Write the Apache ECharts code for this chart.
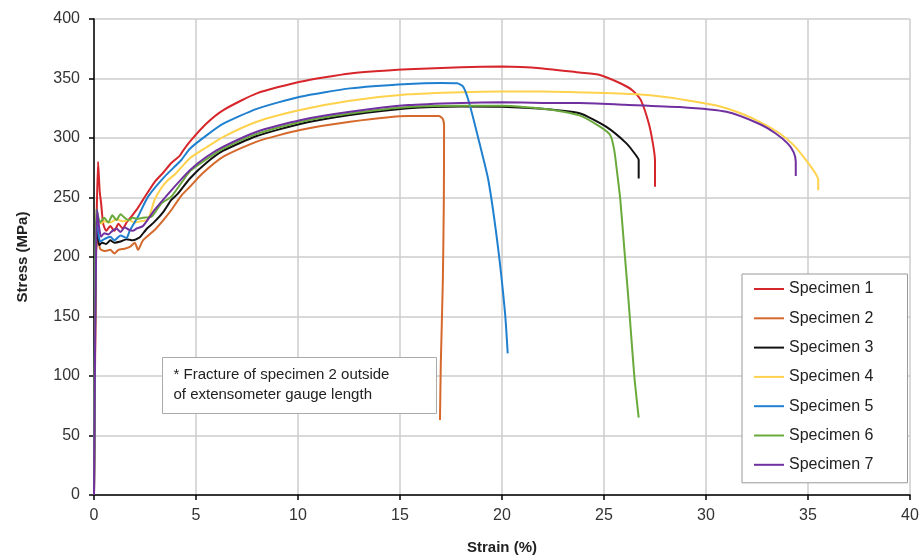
<!DOCTYPE html>
<html>
<head>
<meta charset="utf-8">
<script src="https://cdn.jsdelivr.net/npm/echarts@6/dist/echarts.min.js"></script>
<style>
html,body{margin:0;padding:0;background:#fff;}
#chart{width:922px;height:559px;}
</style>
</head>
<body>
<div id="chart"></div>
<script>
// ---- Data (strain %, stress MPa) ----
const seriesNames = ["Specimen 1","Specimen 2","Specimen 3","Specimen 4","Specimen 5","Specimen 6","Specimen 7"];

const s1Strain = [0,0.1,0.2,0.28,0.35,0.45,0.6,0.8,1.0,1.2,1.4,1.6,1.83,2.1,2.4,2.97,3.4,3.79,4.2,4.35,4.7,5.5,6.34,7.98,10.1,12.55,15.4,18,20,22,23.8,24.8,25.8,26.4,26.8,27.2,27.4,27.5,27.5];
const s1Stress = [0,200,280,255,245,228,222,226,222,228,224,229,234,240,248,263,271,279,285,289,297,312,323.5,337.5,347.3,354.3,357.7,359.5,360,358.5,355,353,346,340,332,312,295,281,259];

const s2Strain = [0,0.05,0.1,0.2,0.3,0.5,0.8,1.0,1.2,1.5,1.8,2.0,2.16,2.4,2.97,3.4,3.79,4.3,4.7,5.3,6.34,7.98,10.1,12.55,15.4,16.9,17.1,17.16,17.15,17.1,17.0,16.96];
const s2Stress = [0,120,205,215,207,205,206,203,206,207,209,212,206,214,222.7,231,239.5,252,259,270,284.3,297,306.7,313.7,318.5,318.5,316,310,250,180,110,63];

const s3Strain = [0,0.05,0.1,0.15,0.25,0.4,0.6,0.8,1.0,1.3,1.6,1.9,2.2,2.32,2.6,2.97,3.4,3.79,4.1,4.7,5.5,6.34,7.98,10.1,12.55,15.4,18,20,22,23.8,25.1,26.1,26.5,26.7,26.7];
const s3Stress = [0,140,230,222,210,212,211,214,212,213,215,214,216,218,224,229.7,238,248,253,266,279,289.3,301.7,311.8,319.3,325,326.5,326.3,324.5,320.8,309.5,295.5,287,281.5,266];

const s4Strain = [0,0.05,0.1,0.2,0.35,0.5,0.8,1.1,1.4,1.7,2.0,2.3,2.6,2.73,2.97,3.3,3.63,4.0,4.7,5.5,6.34,7.98,10.1,12.55,15.4,18,20,22,24,26.6,28,29.5,30.7,31.7,32.7,33.6,34.3,34.9,35.3,35.5,35.5];
const s4Stress = [0,130,220,232,228,230,229,232,230,231,229,230,231,235,248,258,264.7,270,283,292,301,313.7,323.5,331.3,336.7,338.5,339,339,338.2,336.7,334.5,330.5,326.5,320.8,313,304,294,281.5,272,265,256];

const s5Strain = [0,0.05,0.1,0.2,0.3,0.5,0.8,1.0,1.3,1.6,1.75,2.16,2.65,3.46,4.28,4.7,5.5,6.34,7.98,10.1,12.55,15.4,17.0,17.8,18.1,18.4,18.9,19.33,19.8,20.15,20.28];
const s5Stress = [0,140,230,222,213,215,217,214,218,216,222,234,250.7,267.5,281.5,291,302,312,324.5,334.7,341.7,345.4,346.2,346,343,329,295.5,264.7,208.7,152.7,119];

const s6Strain = [0,0.05,0.1,0.15,0.3,0.5,0.7,0.9,1.1,1.3,1.5,1.7,1.9,2.1,2.4,2.83,3.3,3.79,4.7,5.5,6.34,7.98,10.1,12.55,15.4,18,20,22.35,23.8,24.8,25.3,25.5,25.65,25.8,26.0,26.2,26.35,26.5,26.7];
const s6Stress = [0,140,240,238,229,233,229,235,231,236,233,231,233,232,233,234,245,250.7,272,282,291,303.5,313.5,320.5,326,327,327,324,319,309.5,302.5,290,270,248,206,164,130,97,65];

const s7Strain = [0,0.05,0.1,0.15,0.25,0.35,0.5,0.7,0.9,1.1,1.3,1.5,1.7,1.9,2.1,2.4,2.97,3.79,4.7,5.5,6.34,7.98,10.1,12.55,15.4,18,20,22,23.8,26,28.7,31.0,32.6,33.4,34.0,34.3,34.4,34.4];
const s7Stress = [0,120,200,240,225,217,220,219,222,224,221,225,223,222,224,226,239.5,256,273,284,292.7,305.3,315,322,327.7,329.5,330,329.5,329.5,328,326,322,312,304,295.5,288,280,268];

const xTicks = {min:0, max:40, interval:5};
const yTicks = {min:0, max:400, interval:50};
const noteLines = ["* Fracture of specimen 2 outside", "of extensometer gauge length"];

// ---- Build ----
const strainArrs = [s1Strain,s2Strain,s3Strain,s4Strain,s5Strain,s6Strain,s7Strain];
const stressArrs = [s1Stress,s2Stress,s3Stress,s4Stress,s5Stress,s6Stress,s7Stress];
const colors = ["#d7262b","#d4692b","#111111","#ffd24d","#2080d0","#6aaa3c","#7030a0"];
const FONT = "'Liberation Sans', Arial, sans-serif";

const series = seriesNames.map((n,i)=>({
  name:n, type:'line', symbol:'none', smooth:0.2,
  data: strainArrs[i].map((x,k)=>[x, stressArrs[i][k]]),
  lineStyle:{color:colors[i], width:2},
  itemStyle:{color:colors[i]},
  emphasis:{disabled:true},
  animation:false
}));

const chart = echarts.init(document.getElementById('chart'), null, {renderer:'canvas'});
chart.setOption({
  animation:false,
  backgroundColor:'#ffffff',
  grid:{left:94, right:12, top:19, bottom:64, containLabel:false, outerBoundsMode:'none'},
  xAxis:{
    type:'value', min:xTicks.min, max:xTicks.max, interval:xTicks.interval,
    name:'Strain (%)', nameLocation:'middle', nameGap:45,
    nameTextStyle:{fontFamily:FONT, fontSize:15, fontWeight:'bold', color:'#222'},
    axisLine:{show:true, onZero:false, lineStyle:{color:'#000', width:1.5}},
    axisTick:{show:true, length:5, lineStyle:{color:'#000', width:1.5}},
    axisLabel:{fontFamily:FONT, fontSize:16, color:'#333', margin:13},
    splitLine:{show:true, lineStyle:{color:'#cccccc', width:1.5}}
  },
  yAxis:{
    type:'value', min:yTicks.min, max:yTicks.max, interval:yTicks.interval,
    name:'Stress (MPa)', nameLocation:'middle', nameGap:64, nameRotate:90,
    nameTextStyle:{fontFamily:FONT, fontSize:15, fontWeight:'bold', color:'#222'},
    axisLine:{show:true, onZero:false, lineStyle:{color:'#000', width:1.5}},
    axisTick:{show:true, length:5, lineStyle:{color:'#000', width:1.5}},
    axisLabel:{fontFamily:FONT, fontSize:16, color:'#333', margin:14},
    splitLine:{show:true, lineStyle:{color:'#cccccc', width:1.5}}
  },
  legend:{
    orient:'vertical', left:742, top:274,
    icon:'rect', itemWidth:30, itemHeight:2, itemGap:11.3, itemTextGap:2,
    padding:[6,34,9,12],
    backgroundColor:'#ffffff', borderColor:'#999999', borderWidth:1,
    textStyle:{fontFamily:FONT, fontSize:16, color:'#222', lineHeight:18},
    selectedMode:false,
    data:seriesNames.map((n,i)=>({name:n, itemStyle:{color:colors[i]}}))
  },
  graphic:[{
    type:'group', left:162, top:357, z:100,
    children:[
      {type:'rect', z:100, shape:{x:0,y:0,width:274,height:56}, style:{fill:'#fff', stroke:'#aaaaaa', lineWidth:1}},
      {type:'text', z:101, x:11, y:7, style:{text:noteLines.join('\n'), font:"15px 'Liberation Sans', Arial, sans-serif", fill:'#222', lineHeight:20}}
    ]
  }],
  series:series
});
</script>
</body>
</html>
